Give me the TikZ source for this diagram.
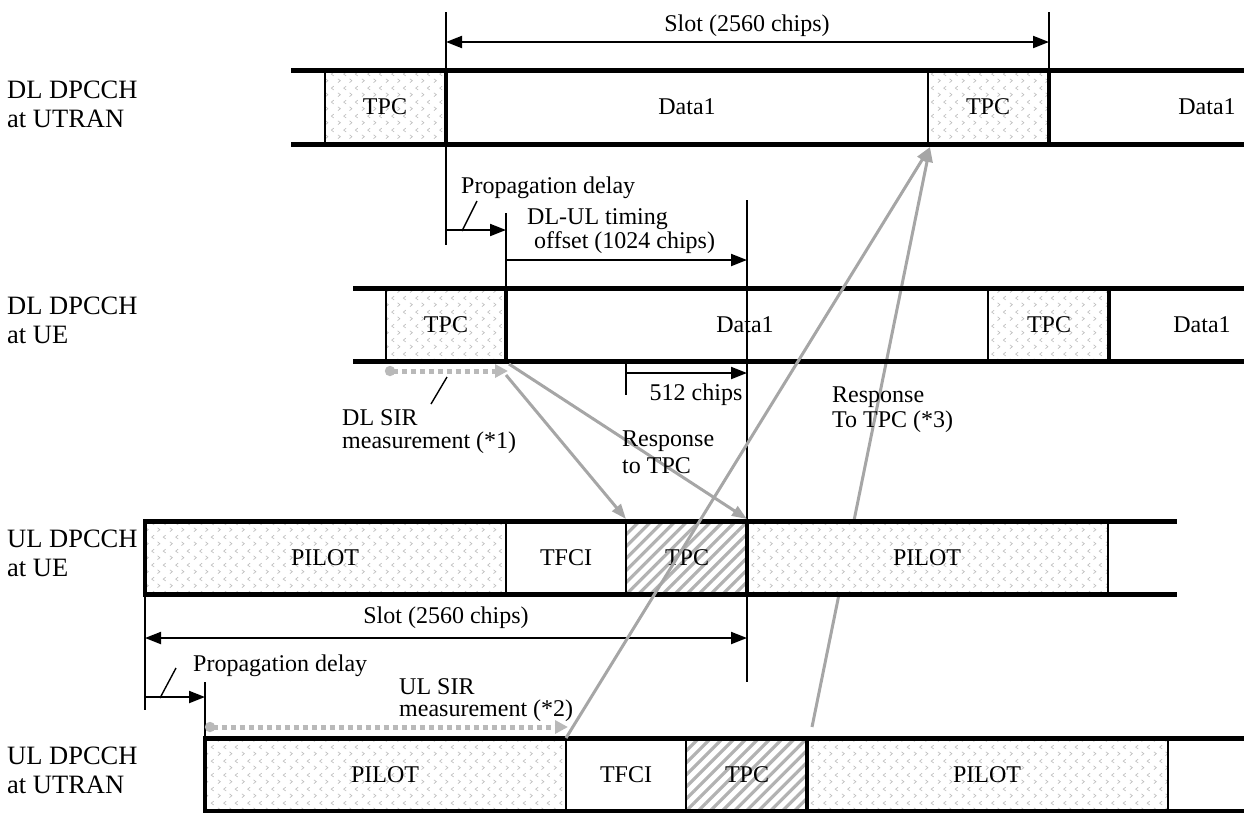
\documentclass[tikz,border=0pt]{standalone}
\usepackage{fontspec}
\setmainfont{Liberation Serif}
\usetikzlibrary{arrows.meta,patterns,patterns.meta}

\tikzdeclarepattern{
  name=chev,
  type=uncolored,
  bounding box={(0pt,0pt) and (24pt,14pt)},
  tile size={(24pt,14pt)},
  code={
    \draw[line width=0.7pt] (2pt,1.5pt) -- (4.5pt,3.5pt) -- (2pt,5.5pt);
    \draw[line width=0.7pt] (14pt,1.5pt) -- (16.5pt,3.5pt) -- (14pt,5.5pt);
    \draw[line width=0.7pt] (10.5pt,8.5pt) -- (8pt,10.5pt) -- (10.5pt,12.5pt);
    \draw[line width=0.7pt] (22.5pt,8.5pt) -- (20pt,10.5pt) -- (22.5pt,12.5pt);
  }
}

\tikzset{
  rowline/.style={line width=5pt},
  thinsep/.style={line width=1.3pt},
  thicksep/.style={line width=4pt},
  stip/.style={pattern=chev, pattern color=gray!50},
  hatch/.style={pattern={Lines[angle=45,distance=8.5pt,line width=3.2pt]}, pattern color=gray!60},
  refline/.style={line width=1.4pt},
  dimone/.style={line width=2pt, -{Triangle[length=16pt,width=12pt]}},
  dimboth/.style={line width=2pt, {Triangle[length=16pt,width=12pt]}-{Triangle[length=16pt,width=12pt]}},
  resp/.style={draw=gray!70, line width=3pt, -{Triangle[length=15pt,width=11pt]}},
  meas/.style={draw=gray!55, line width=5pt, dash pattern=on 5pt off 4pt,
     {Circle[length=10pt,width=10pt]}-{Triangle[length=13pt,width=13pt]}},
  slash/.style={line width=1.4pt},
  lbl/.style={font=\fontsize{24}{27}\selectfont, inner sep=0pt},
  lblw/.style={lbl, anchor=west},
  rowlbl/.style={font=\fontsize{26.5}{29}\selectfont, align=left, anchor=west, inner sep=0pt},
}

\begin{document}
\begin{tikzpicture}[x=1pt,y=-1pt]
\useasboundingbox (0,0) rectangle (1244,812);

% ---------- key coordinates
\coordinate (dlTpcU) at (930,147);   % DL TPC at UTRAN, start
\coordinate (lbS) at (812,727);      % start of line B
\coordinate (lbS2) at (566,738);     % start of line A

% ---------- line B (passes behind UL at UE)
\draw[resp] (lbS) -- (dlTpcU);

% ---------- Row 1 : DL DPCCH at UTRAN
\path[stip] (325,70) rectangle (446,144);
\path[stip] (928,70) rectangle (1049,144);
\draw[thinsep] (325,70) -- (325,144);
\draw[thinsep] (928,70) -- (928,144);
\draw[thicksep] (446,70) -- (446,144);
\draw[thicksep] (1049,70) -- (1049,144);
\draw[rowline] (291,70) -- (1244,70);
\draw[rowline] (291,144) -- (1244,144);
\node[lbl] (r1a) at (385,107) {TPC};
\node[lbl] (r1b) at (687,107) {Data1};
\node[lbl] (r1c) at (988,107) {TPC};
\node[lbl] (r1d) at (1207,107) {Data1};
\node[rowlbl] (l1) at (7,104) {DL DPCCH\\at UTRAN};

% ---------- Row 2 : DL DPCCH at UE
\path[stip] (386,288) rectangle (506,361);
\path[stip] (988,288) rectangle (1109,361);
\draw[thinsep] (386,288) -- (386,361);
\draw[thinsep] (988,288) -- (988,361);
\draw[thicksep] (506,288) -- (506,361);
\draw[thicksep] (1109,288) -- (1109,361);
\draw[rowline] (353,288) -- (1244,288);
\draw[rowline] (353,361) -- (1244,361);
\node[lbl] (r2a) at (446,325) {TPC};
\node[lbl] (r2b) at (745,325) {Data1};
\node[lbl] (r2c) at (1049,325) {TPC};
\node[lbl] (r2d) at (1202,325) {Data1};
\node[rowlbl] (l2) at (7,320) {DL DPCCH\\at UE};

% ---------- Row 3 : UL DPCCH at UE
\path[fill=white] (145,521) rectangle (1177,594);
\path[stip] (145,521) rectangle (506,594);
\path[hatch] (626,521) rectangle (747,594);
\path[stip] (747,521) rectangle (1108,594);
\draw[thinsep] (506,521) -- (506,594);
\draw[thinsep] (626,521) -- (626,594);
\draw[thinsep] (1108,521) -- (1108,594);
\draw[thicksep] (145,521) -- (145,594);
\draw[thicksep] (747,521) -- (747,594);
\draw[rowline] (143,521) -- (1177,521);
\draw[rowline] (143,594) -- (1177,594);
\node[lbl] (r3a) at (325,558) {PILOT};
\node[lbl] (r3b) at (566,558) {TFCI};
\node[lbl] (r3c) at (687,558) {TPC};
\node[lbl] (r3d) at (927,558) {PILOT};
\node[rowlbl] (l3) at (7,553) {UL DPCCH\\at UE};

% ---------- Row 4 : UL DPCCH at UTRAN
\path[fill=white] (205,738) rectangle (1244,812);
\path[stip] (205,738) rectangle (566,812);
\path[hatch] (686,738) rectangle (807,812);
\path[stip] (807,738) rectangle (1168,812);
\draw[thinsep] (566,738) -- (566,812);
\draw[thinsep] (686,738) -- (686,812);
\draw[thinsep] (1168,738) -- (1168,812);
\draw[thicksep] (205,738) -- (205,812);
\draw[thicksep] (807,738) -- (807,812);
\draw[rowline] (203,738) -- (1244,738);
\draw[rowline] (203,811) -- (1244,811);
\node[lbl] (r4a) at (385,775) {PILOT};
\node[lbl] (r4b) at (626,775) {TFCI};
\node[lbl] (r4c) at (747,775) {TPC};
\node[lbl] (r4d) at (987,775) {PILOT};
\node[rowlbl] (l4) at (7,770) {UL DPCCH\\at UTRAN};

% ---------- top slot dimension
\coordinate (s1a) at (446,42);
\coordinate (s1b) at (1049,42);
\draw[refline] (446,12) -- (446,245);
\draw[refline] (1049,12) -- (1049,70);
\draw[dimboth] (s1a) -- (s1b);
\node[lbl] (slot1) at (747,26) {Slot (2560 chips)};

% ---------- DL propagation delay and DL-UL offset
\coordinate (pd1a) at (446,230);
\coordinate (pd1b) at (506,230);
\draw[refline] (506,213) -- (506,288);
\draw[dimone] (pd1a) -- (pd1b);
\draw[slash] (462,231) -- (477,201);
\node[lblw] (pdl1) at (461,188) {Propagation delay};
\node[lblw] (ofs1) at (527,219) {DL-UL timing};
\node[lblw] (ofs2) at (534,243) {offset (1024 chips)};
\coordinate (of1a) at (506,260);
\coordinate (of1b) at (747,260);
\draw[refline] (747,200) -- (747,682);
\draw[dimone] (of1a) -- (of1b);

% ---------- 512 chips
\coordinate (c5a) at (626,373);
\coordinate (c5b) at (747,373);
\draw[refline] (626,364) -- (626,395);
\draw[dimone] (c5a) -- (c5b);
\node[lbl] (c512) at (696,395) {512 chips};

% ---------- DL SIR measurement
\coordinate (dsA) at (385,371);
\coordinate (dsB) at (508,371);
\draw[meas] (dsA) -- (dsB);
\draw[slash] (447,377) -- (431,404);
\node[lblw] (dsir1) at (342,418) {DL SIR};
\node[lblw] (dsir2) at (342,443) {measurement (*1)};

% ---------- responses UE
\coordinate (rA) at (506,375);
\coordinate (rB) at (509,364);
\coordinate (ulTpcS) at (626,519);
\coordinate (ulTpcE) at (747,519);
\draw[resp] (rA) -- (ulTpcS);
\draw[resp] (rB) -- (ulTpcE);
\node[lblw] (rsp1) at (622,441) {Response};
\node[lblw] (rsp2) at (622,466) {to TPC};

% ---------- lower slot dimension and propagation delay
\coordinate (s2a) at (145,638);
\coordinate (s2b) at (747,638);
\draw[refline] (145,594) -- (145,710);
\draw[dimboth] (s2a) -- (s2b);
\node[lbl] (slot2) at (446,618) {Slot (2560 chips)};
\coordinate (pd2a) at (145,697);
\coordinate (pd2b) at (205,697);
\draw[refline] (205,682) -- (205,738);
\draw[dimone] (pd2a) -- (pd2b);
\draw[slash] (160,698) -- (176,668);
\node[lblw] (pdl2) at (193,666) {Propagation delay};

% ---------- UL SIR measurement
\coordinate (usA) at (205,727);
\coordinate (usB) at (568,727);
\draw[meas] (usA) -- (usB);
\node[lblw] (usir1) at (399,687) {UL SIR};
\node[lblw] (usir2) at (399,711) {measurement (*2)};

% ---------- line A (over UL at UE)
\draw[resp] (lbS2) -- (dlTpcU);
\node[lblw] (rsp3) at (832,397) {Response};
\node[lblw] (rsp4) at (832,422) {To TPC (*3)};

\end{tikzpicture}
\end{document}
